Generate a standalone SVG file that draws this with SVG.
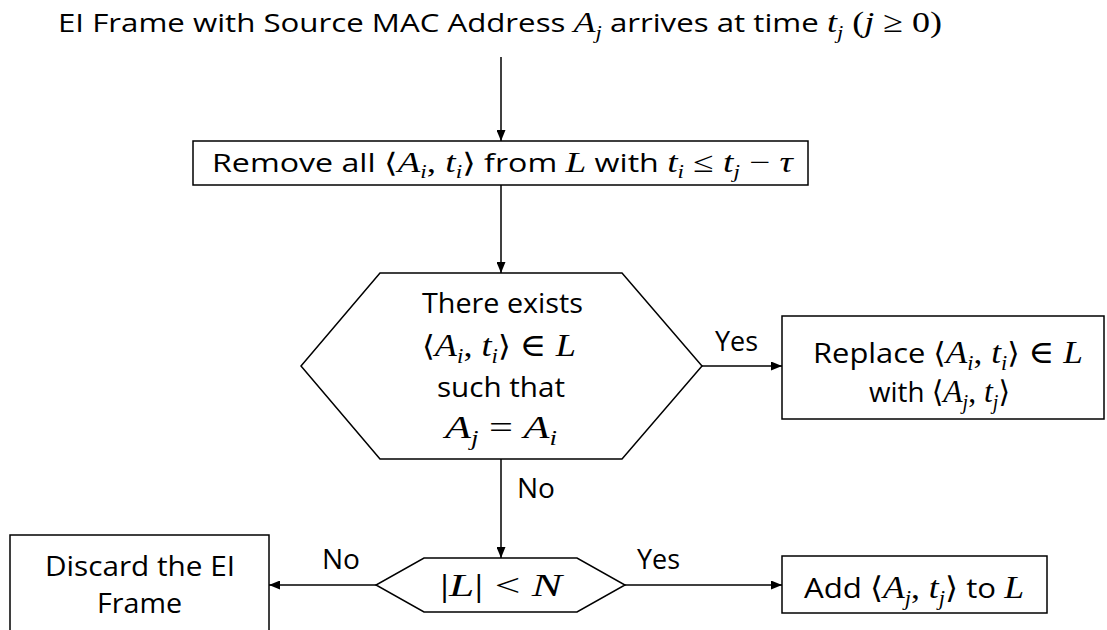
<svg xmlns="http://www.w3.org/2000/svg" width="1107" height="630" viewBox="0 0 1107 630">
<style>
.t{font-family:"Open Sans","Liberation Sans",sans-serif;fill:#000}
.m{font-family:"Liberation Serif","DejaVu Serif",serif;font-style:italic}
.r{font-family:"Liberation Serif","DejaVu Serif",serif;font-style:normal}
.br{font-family:"DejaVu Serif","Liberation Serif",serif;font-style:normal}
.sb{font-size:72%}
.box{fill:#fff;stroke:#000;stroke-width:1.5}
.ln{stroke:#000;stroke-width:1.5;fill:none;marker-end:url(#ah)}
</style>
<defs>
<marker id="ah" markerUnits="userSpaceOnUse" markerWidth="11" markerHeight="9" refX="11" refY="4.5" orient="auto">
<path d="M0,0 L11,4.5 L0,9 z" fill="#000"/>
</marker>
</defs>

<g id="title">
<text class="t" x="58" y="32" font-size="26" textLength="884" lengthAdjust="spacingAndGlyphs">EI Frame with Source MAC Address <tspan class="m" font-size="30">A</tspan><tspan class="m sb" dy="7">j</tspan><tspan dy="-7"> arrives at time </tspan><tspan class="m" font-size="30">t</tspan><tspan class="m sb" dy="7">j</tspan><tspan class="r" dy="-7" font-size="30"> (</tspan><tspan class="m" font-size="30">j</tspan><tspan class="r" font-size="30"> ≥ 0)</tspan></text>
</g>

<g id="remove">
<rect class="box" x="193" y="141" width="615" height="44"/>
<text class="t" x="212" y="172" font-size="25" textLength="581" lengthAdjust="spacingAndGlyphs">Remove all <tspan class="br" font-size="27">⟨</tspan><tspan class="m" font-size="29">A</tspan><tspan class="m sb" dy="6">i</tspan><tspan class="r" dy="-6" font-size="29">, </tspan><tspan class="m" font-size="29">t</tspan><tspan class="m sb" dy="6">i</tspan><tspan class="br" dy="-6" font-size="27">⟩</tspan> from <tspan class="m" font-size="29">L</tspan> with <tspan class="m" font-size="29">t</tspan><tspan class="m sb" dy="6">i</tspan><tspan class="r" dy="-6" font-size="29"> ≤ </tspan><tspan class="m" font-size="29">t</tspan><tspan class="m sb" dy="6">j</tspan><tspan class="r" dy="-6" font-size="29"> − </tspan><tspan class="m" font-size="29">τ</tspan></text>
</g>

<g id="exists">
<polygon class="box" points="380,273 622,273 702,366 622,459 380,459 301,366"/>
<text class="t" x="422" y="313" font-size="28" textLength="161" lengthAdjust="spacingAndGlyphs">There exists</text>
<text class="t" x="422" y="356" font-size="28" textLength="154" lengthAdjust="spacingAndGlyphs"><tspan class="br" font-size="29">⟨</tspan><tspan class="m" font-size="32">A</tspan><tspan class="m sb" dy="7">i</tspan><tspan class="r" dy="-7" font-size="32">, </tspan><tspan class="m" font-size="32">t</tspan><tspan class="m sb" dy="7">i</tspan><tspan class="br" dy="-7" font-size="29">⟩</tspan><tspan class="r" font-size="32"> ∈ </tspan><tspan class="m" font-size="32">L</tspan></text>
<text class="t" x="437" y="397" font-size="28" textLength="128" lengthAdjust="spacingAndGlyphs">such that</text>
<text class="t" x="445" y="438" font-size="28" textLength="112" lengthAdjust="spacingAndGlyphs"><tspan class="m" font-size="32">A</tspan><tspan class="m sb" dy="7">j</tspan><tspan class="r" dy="-7" font-size="32"> = </tspan><tspan class="m" font-size="32">A</tspan><tspan class="m sb" dy="7">i</tspan></text>
</g>

<g id="replace">
<rect class="box" x="782" y="316" width="322" height="103"/>
<text class="t" x="813" y="363" font-size="28" textLength="270" lengthAdjust="spacingAndGlyphs">Replace <tspan class="br" font-size="29">⟨</tspan><tspan class="m" font-size="32">A</tspan><tspan class="m sb" dy="7">i</tspan><tspan class="r" dy="-7" font-size="32">, </tspan><tspan class="m" font-size="32">t</tspan><tspan class="m sb" dy="7">i</tspan><tspan class="br" dy="-7" font-size="29">⟩</tspan><tspan class="r" font-size="32"> ∈ </tspan><tspan class="m" font-size="32">L</tspan></text>
<text class="t" x="869" y="402" font-size="28" textLength="141" lengthAdjust="spacingAndGlyphs">with <tspan class="br" font-size="30">⟨</tspan><tspan class="m" font-size="32">A</tspan><tspan class="m sb" dy="7">j</tspan><tspan class="r" dy="-7" font-size="32">, </tspan><tspan class="m" font-size="32">t</tspan><tspan class="m sb" dy="7">j</tspan><tspan class="br" dy="-7" font-size="30">⟩</tspan></text>
</g>

<g id="size">
<polygon class="box" points="424,558 577,558 625,585 577,612 424,612 376,585"/>
<text class="t" x="440" y="596" font-size="32" textLength="122" lengthAdjust="spacingAndGlyphs"><tspan class="r">|</tspan><tspan class="m">L</tspan><tspan class="r">| &lt; </tspan><tspan class="m">N</tspan></text>
</g>

<g id="discard">
<rect class="box" x="10" y="535" width="259" height="110"/>
<text class="t" x="45" y="576" font-size="28" textLength="190" lengthAdjust="spacingAndGlyphs">Discard the EI</text>
<text class="t" x="97" y="613" font-size="28" textLength="85" lengthAdjust="spacingAndGlyphs">Frame</text>
</g>

<g id="add">
<rect class="box" x="782" y="556" width="265" height="57"/>
<text class="t" x="804" y="598" font-size="28" textLength="220" lengthAdjust="spacingAndGlyphs">Add <tspan class="br" font-size="30">⟨</tspan><tspan class="m" font-size="32">A</tspan><tspan class="m sb" dy="7">j</tspan><tspan class="r" dy="-7" font-size="32">, </tspan><tspan class="m" font-size="32">t</tspan><tspan class="m sb" dy="7">j</tspan><tspan class="br" dy="-7" font-size="30">⟩</tspan> to <tspan class="m" font-size="32">L</tspan></text>
</g>

<g id="connectors">
<line class="ln" x1="501" y1="57" x2="501" y2="141"/>
<line class="ln" x1="501" y1="185" x2="501" y2="273"/>
<line class="ln" x1="702" y1="366" x2="782" y2="366"/>
<line class="ln" x1="501" y1="459" x2="501" y2="558"/>
<line class="ln" x1="376" y1="585" x2="269" y2="585"/>
<line class="ln" x1="625" y1="585" x2="782" y2="585"/>
<text class="t" x="715" y="351" font-size="28" textLength="43" lengthAdjust="spacingAndGlyphs">Yes</text>
<text class="t" x="517" y="498" font-size="28" textLength="38" lengthAdjust="spacingAndGlyphs">No</text>
<text class="t" x="322" y="569" font-size="28" textLength="38" lengthAdjust="spacingAndGlyphs">No</text>
<text class="t" x="637" y="569" font-size="28" textLength="43" lengthAdjust="spacingAndGlyphs">Yes</text>
</g>
</svg>
